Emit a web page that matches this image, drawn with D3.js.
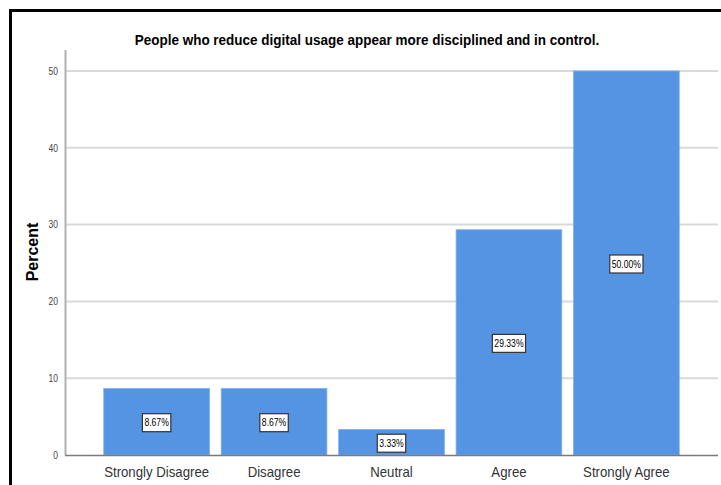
<!DOCTYPE html>
<html lang="en">
<head>
<meta charset="utf-8">
<script src="https://d3js.org/d3.v7.min.js"></script>
<style>
  body { margin: 0; background: #fff; }
  svg { display: block; font-family: "Liberation Sans", Arial, sans-serif; }
</style>
</head>
<body>
<svg width="721" height="485"></svg>
<script>
  // data
  const categories = ["Strongly Disagree", "Disagree", "Neutral", "Agree", "Strongly Agree"];
  const percents = [8.67, 8.67, 3.33, 29.33, 50.0];
  const yTicks = [0, 10, 20, 30, 40, 50];

  const svg = d3.select("svg");

  // squeeze text horizontally, the SPSS export looks condensed
  function condense(sel, k) {
    sel.each(function () {
      var w = this.getComputedTextLength();
      d3.select(this).attr("textLength", w * k).attr("lengthAdjust", "spacingAndGlyphs");
    });
  }

  // black frame (left + top only, the rest is cropped off)
  svg.append("path")
    .attr("d", "M10.5,485V10.5H721")
    .attr("fill", "none")
    .attr("stroke", "#000")
    .attr("stroke-width", 3);

  var x = d3.scaleBand().domain(categories).range([65, 718]).paddingInner(0.1).paddingOuter(0.33);
  var y = d3.scaleLinear().domain([0, 50]).range([455, 71]);

  // gridlines
  svg.append("g")
    .selectAll("line")
    .data(yTicks.filter(d => d > 0))
    .enter()
    .append("line")
    .attr("x1", 65)
    .attr("x2", 718)
    .attr("y1", d => y(d))
    .attr("y2", d => y(d))
    .attr("stroke", "#d9d9d9")
    .attr("stroke-width", 2);

  // y axis
  var yAxis = svg.append("g")
    .attr("transform", "translate(65,0)")
    .call(d3.axisLeft(y).tickValues(yTicks).tickSize(0).tickPadding(7));
  yAxis.select(".domain").remove();
  yAxis.selectAll("text")
    .attr("font-size", 10)
    .attr("fill", "#444")
    .call(condense, 0.85);
  svg.append("line")
    .attr("x1", 65.5).attr("x2", 65.5)
    .attr("y1", 50).attr("y2", 455)
    .attr("stroke", "#b0b0b0")
    .attr("stroke-width", 2);

  // bars
  svg.append("g")
    .selectAll("rect")
    .data(percents)
    .enter()
    .append("rect")
    .attr("x", (d, i) => x(categories[i]))
    .attr("y", d => y(d))
    .attr("width", x.bandwidth())
    .attr("height", d => y(0) - y(d))
    .attr("fill", "#5594e2")
    .attr("stroke", "#7fb0ee")
    .attr("stroke-width", 0.8);

  // baseline
  svg.append("line")
    .attr("x1", 65).attr("x2", 718)
    .attr("y1", 455.5).attr("y2", 455.5)
    .attr("stroke", "#7a7a7a")
    .attr("stroke-width", 1.5);

  // x axis labels
  var xAxis = svg.append("g")
    .attr("transform", "translate(0,455)")
    .call(d3.axisBottom(x).tickSize(0).tickPadding(11));
  xAxis.select(".domain").remove();
  xAxis.selectAll("text")
    .attr("font-size", 15)
    .attr("fill", "#333")
    .call(condense, 0.88);

  // value labels in white boxes
  var lab = svg.append("g")
    .selectAll("g")
    .data(percents)
    .enter()
    .append("g")
    .attr("transform", (d, i) => "translate(" + (x(categories[i]) + x.bandwidth() / 2) + "," + (y(d / 2) + 1) + ")");
  lab.append("text")
    .attr("text-anchor", "middle")
    .attr("dy", "0.35em")
    .attr("font-size", 10.5)
    .attr("fill", "#000")
    .text(d => d.toFixed(2) + "%")
    .call(condense, 0.82);
  lab.each(function () {
    var g = d3.select(this);
    var bb = g.select("text").node().getBBox();
    g.insert("rect", "text")
      .attr("x", bb.x - 2)
      .attr("y", -9)
      .attr("width", bb.width + 4)
      .attr("height", 18)
      .attr("fill", "#fff")
      .attr("stroke", "#333")
      .attr("stroke-width", 1.2);
  });

  // title
  svg.append("text")
    .attr("x", 367)
    .attr("y", 45)
    .attr("text-anchor", "middle")
    .attr("font-weight", "bold")
    .attr("font-size", 14.5)
    .attr("fill", "#000")
    .text("People who reduce digital usage appear more disciplined and in control.")
    .call(condense, 0.93);

  // y axis title
  svg.append("text")
    .attr("transform", "translate(37.5,252) rotate(-90)")
    .attr("text-anchor", "middle")
    .attr("font-weight", "bold")
    .attr("font-size", 16)
    .attr("fill", "#000")
    .text("Percent");
</script>
</body>
</html>
